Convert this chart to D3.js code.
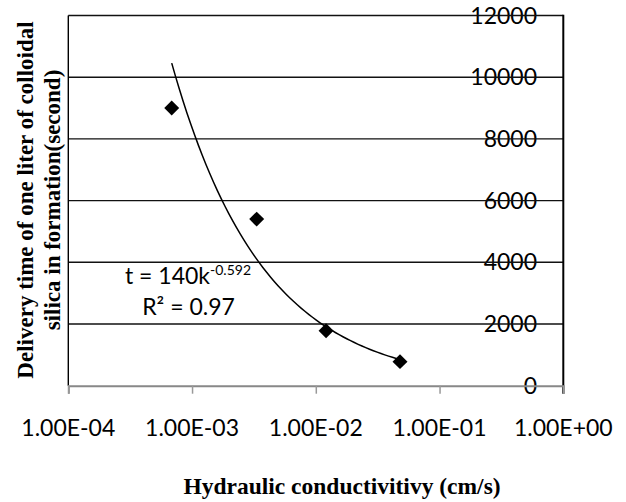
<!DOCTYPE html>
<html>
<head>
<meta charset="utf-8">
<script src="https://cdn.jsdelivr.net/npm/d3@7"></script>
<style>
  body { margin: 0; background: #fff; }
  svg { display: block; }
</style>
</head>
<body>
<svg id="chart"></svg>
<script>
// data
let kValues = [6.85e-4, 3.33e-3, 1.21e-2, 4.79e-2];   // hydraulic conductivity (cm/s)
let tValues = [9000, 5400, 1780, 780];              // delivery time (s)
let xTicks = [1e-4, 1e-3, 1e-2, 1e-1, 1];
let xTickLabels = ["1.00E-04", "1.00E-03", "1.00E-02", "1.00E-01", "1.00E+00"];
let yTicks = [0, 2000, 4000, 6000, 8000, 10000, 12000];
// power trendline shown on the chart: t = 140 k^-0.592
let trendA = 140;
let trendB = -0.592;

let width = 626;
let height = 502;
let plotLeft = 68.3, plotRight = 563.3, plotTop = 15.5, plotBottom = 385.7;

let svg = d3.select("#chart").attr("width", width).attr("height", height);

let x = d3.scaleLog().domain([1e-4, 1]).range([plotLeft, plotRight]);
let y = d3.scaleLinear().domain([0, 12000]).range([plotBottom, plotTop]);

let tickFont = "Lato, 'Open Sans', sans-serif";
let titleFont = "'Liberation Serif', 'Times New Roman', serif";

// y labels sit left of the right-hand axis, struck by the gridlines
svg.append("g")
  .selectAll("text")
  .data(yTicks)
  .enter()
  .append("text")
  .attr("x", 537)
  .attr("y", (d) => y(d))
  .attr("dy", "0.35em")
  .attr("text-anchor", "end")
  .style("font-family", tickFont)
  .style("font-size", "23px")
  .attr("fill", "#000")
  .text((d) => d);

// gridlines
svg.append("g")
  .selectAll("line")
  .data(yTicks.filter((d) => d > 0))
  .enter()
  .append("line")
  .attr("x1", plotLeft)
  .attr("x2", plotRight)
  .attr("y1", (d) => y(d))
  .attr("y2", (d) => y(d))
  .attr("stroke", "#111")
  .attr("stroke-width", 1.4);

// plot border: left and right black
svg.append("line")
  .attr("x1", plotLeft).attr("x2", plotLeft)
  .attr("y1", plotTop).attr("y2", plotBottom)
  .attr("stroke", "#000").attr("stroke-width", 1.4);
svg.append("line")
  .attr("x1", plotRight).attr("x2", plotRight)
  .attr("y1", plotTop - 0.7).attr("y2", plotBottom + 8)
  .attr("stroke", "#000").attr("stroke-width", 2);

// x axis (grey)
let xAxis = svg.append("g")
  .attr("transform", `translate(0,${plotBottom})`)
  .call(d3.axisBottom(x).tickValues(xTicks).tickSize(8).tickFormat(""));
xAxis.select(".domain").attr("stroke", "#888").attr("stroke-width", 2);
xAxis.selectAll(".tick line").attr("stroke", "#999").attr("stroke-width", 1.5);
xAxis.selectAll(".tick text").remove();

svg.append("g")
  .selectAll("text")
  .data(xTicks)
  .enter()
  .append("text")
  .attr("x", (d) => x(d))
  .attr("y", 436)
  .attr("text-anchor", "middle")
  .style("font-family", tickFont)
  .style("font-size", "23px")
  .attr("fill", "#000")
  .text((d, i) => xTickLabels[i]);

// trendline
let kExtent = d3.extent(kValues);
let lo = Math.log10(kExtent[0]), hi = Math.log10(kExtent[1]);
let trendK = d3.range(0, 61).map((i) => Math.pow(10, lo + (hi - lo) * i / 60));
let line = d3.line()
  .x((d) => x(d))
  .y((d) => y(trendA * Math.pow(d, trendB)));
svg.append("path")
  .datum(trendK)
  .attr("d", line)
  .attr("fill", "none")
  .attr("stroke", "#000")
  .attr("stroke-width", 1.5);

// diamond markers
let diamond = d3.symbol().type(d3.symbolSquare).size(112);
svg.append("g")
  .selectAll("path")
  .data(kValues)
  .enter()
  .append("path")
  .attr("d", diamond)
  .attr("transform", (d, i) => `translate(${x(d)},${y(tValues[i])}) rotate(45)`)
  .attr("fill", "#000");

// equation label
let eq = svg.append("text")
  .attr("x", 188)
  .attr("y", 284)
  .attr("text-anchor", "middle")
  .style("font-family", tickFont)
  .style("font-size", "23px")
  .attr("fill", "#000");
eq.append("tspan").text("t = " + trendA + "k");
eq.append("tspan")
  .attr("dy", -9)
  .style("font-size", "14px")
  .text(trendB);
svg.append("text")
  .attr("x", 188.5)
  .attr("y", 315)
  .attr("text-anchor", "middle")
  .style("font-family", tickFont)
  .style("font-size", "23px")
  .attr("fill", "#000")
  .text("R² = 0.97");

// axis titles
svg.append("text")
  .attr("x", 342)
  .attr("y", 494)
  .attr("text-anchor", "middle")
  .style("font-family", titleFont)
  .style("font-size", "23.5px")
  .style("font-weight", "bold")
  .text("Hydraulic conductivitivy (cm/s)");

let yTitle = svg.append("text")
  .attr("transform", "translate(0,200) rotate(-90)")
  .attr("text-anchor", "middle")
  .style("font-family", titleFont)
  .style("font-size", "23px")
  .style("font-weight", "bold");
yTitle.append("tspan").attr("x", 0).attr("y", 33).text("Delivery time of one liter of colloidal");
yTitle.append("tspan").attr("x", 0).attr("y", 60).text("silica in formation(second)");
</script>
</body>
</html>
